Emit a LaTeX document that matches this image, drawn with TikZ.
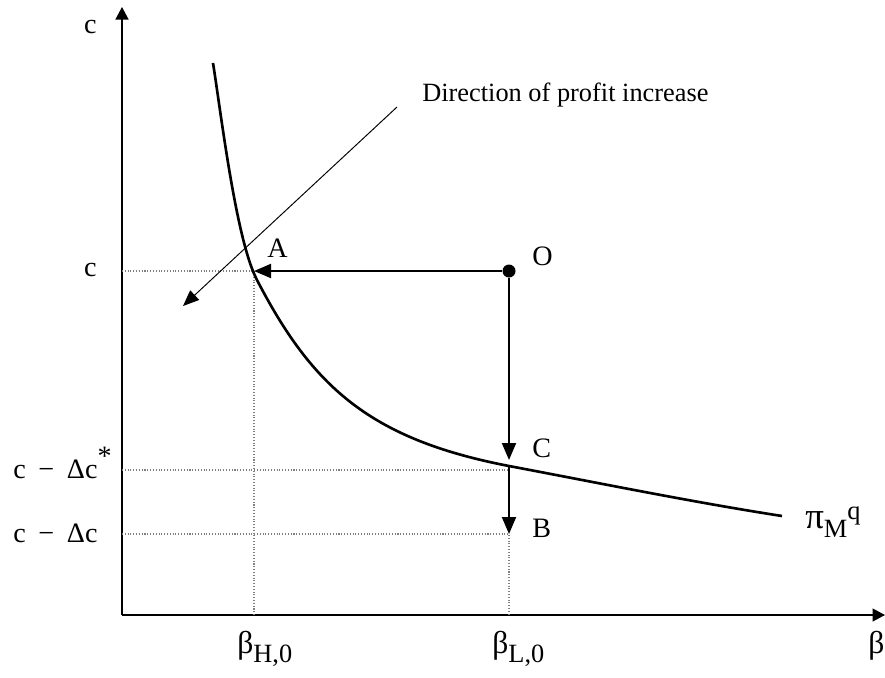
\documentclass[tikz,border=0pt]{standalone}
\usepackage{fontspec}
\setmainfont{Liberation Serif}
\usepackage{tikz}
\usetikzlibrary{arrows.meta,positioning,calc}

\begin{document}
\begin{tikzpicture}[
    x=0.02cm, y=-0.02cm,
    axis/.style={line width=0.75pt, -{Triangle[length=0.25cm, width=0.26cm]}},
    guide/.style={densely dotted, gray, line width=0.6pt},
    move/.style={line width=1.1pt, -{Triangle[length=0.34cm, width=0.28cm]}},
    dirarrow/.style={line width=0.55pt, -{Triangle[length=0.32cm, width=0.26cm]}},
    profit/.style={line width=1.5pt},
    lbl/.style={inner sep=0pt, font=\fontsize{16}{18}\selectfont},
    blbl/.style={inner sep=0pt, font=\fontsize{18}{20}\selectfont},
    dot/.style={circle, fill=black, inner sep=0pt, minimum size=0.26cm}
]
\useasboundingbox (0,0) rectangle (885,677);

% Axes
\coordinate (orig) at (122,615);
\coordinate (ytop) at (122,7);
\coordinate (xend) at (885,615);
\draw[axis] (orig) -- (ytop);
\draw[axis] (orig) -- (xend);

% Points
\node[dot] (O) at (509,271) {};
\coordinate (A) at (254,271);
\coordinate (C) at (509,466);
\coordinate (Ctip) at (509,460);
\coordinate (B) at (509,534);
\coordinate (Aaxis) at (122,271);
\coordinate (Cstaraxis) at (122,470);
\coordinate (Cstar) at (509,470);
\coordinate (Baxis) at (122,534);
\coordinate (Hfoot) at (254,615);
\coordinate (Lfoot) at (509,615);

% Dotted guides
\draw[guide] (Aaxis) -- (A) -- (Hfoot);
\draw[guide] (Cstaraxis) -- (Cstar);
\draw[guide] (Baxis) -- (B) -- (Lfoot);

% Iso-profit curve
\draw[profit] (213,63) .. controls (221,113) and (236,240) .. (257,280)
    .. controls (312,386) and (369,439) .. (509,466)
    .. controls (599,483) and (692,502) .. (782,516);

% Moves from O
\draw[move] (O) -- (A);
\draw[move] (O) -- (Ctip);
\draw[move] (C) -- (B);

% Direction of profit increase
\coordinate (dirstart) at (397,107);
\coordinate (dirtip) at (183,306);
\draw[dirarrow] (dirstart) -- (dirtip);
\node[lbl, font=\fontsize{15}{17}\selectfont, anchor=base west] (dirtxt) at (422,101) {Direction of profit increase};

% Point labels
\node[lbl, anchor=base west] (Olbl) at (532,265) {O};
\node[lbl, anchor=base west] (Albl) at (267,257) {A};
\node[lbl, anchor=base west] (Clbl) at (532,457) {C};
\node[lbl, anchor=base west] (Blbl) at (532,537) {B};

% Axis labels
\node[lbl, anchor=base east] (cy) at (97,33) {c};
\node[lbl, anchor=base east] (cA) at (97,276) {c};
\node[lbl, anchor=base west] (cstarlbl) at (13,478) {c\hspace{0.2em} − \hspace{0.2em}Δc\raisebox{7pt}{*}};
\node[lbl, anchor=base west] (cdlbl) at (13,542) {c\hspace{0.2em} − \hspace{0.2em}Δc};
\node[blbl, anchor=base west] (bx) at (868,653) {β};
\node[blbl, anchor=base west] (bH) at (237,653) {β\raisebox{-5.5pt}{\fontsize{15}{17}\selectfont H,0}};
\node[blbl, anchor=base west] (bL) at (492,653) {β\raisebox{-5.5pt}{\fontsize{15}{17}\selectfont L,0}};
\node[lbl, anchor=base west] (pilbl) at (805,528) {{\fontsize{21}{23}\selectfont π}\raisebox{-5.5pt}{\fontsize{15}{17}\selectfont M}\raisebox{5pt}{\fontsize{15}{17}\selectfont q}};

\end{tikzpicture}
\end{document}
